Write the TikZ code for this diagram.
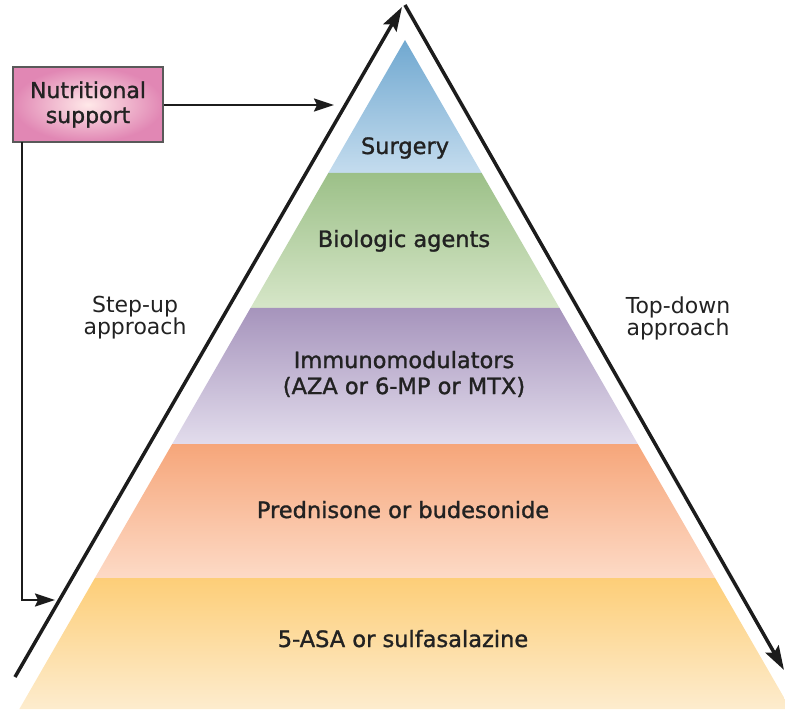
\documentclass[tikz,border=0pt]{standalone}
\usepackage{fontspec}
\setmainfont{DejaVu Sans}
\newfontfamily\mainlab[FakeBold=1.3]{DejaVu Sans}
\usetikzlibrary{arrows.meta}
\definecolor{ink}{HTML}{1C1C1C}
\definecolor{txt}{HTML}{222222}
\begin{document}
\begin{tikzpicture}[x=1pt,y=-1pt,
  layertext/.style={font=\mainlab\fontsize{22.5}{26}\selectfont, text=txt, align=center, inner sep=0pt},
  sidetext/.style={font=\fontsize{22}{22}\selectfont, text=txt, align=center, inner sep=0pt},
  bigarrow/.style={draw=ink, line width=3.5pt, -{Stealth[length=24pt,width=15pt,inset=4pt]}},
  smallarrow/.style={draw=ink, line width=2pt, -{Stealth[length=20pt,width=13pt,inset=3pt]}},
  supportbox/.style={draw=black!65, line width=1.2pt, inner color=pink!35!white, outer color={rgb,255:red,225;green,135;blue,180},
    minimum width=150pt, minimum height=75pt, align=center, inner sep=0pt,
    font=\mainlab\fontsize{22}{25}\selectfont, text=txt}
]
\useasboundingbox (0,0) rectangle (785,711);

% layers
\shade[top color={rgb,255:red,112;green,168;blue,208}, bottom color={rgb,255:red,196;green,220;blue,238}]
  (405,40) -- (481.7,173) -- (328.3,173) -- cycle;
\shade[top color={rgb,255:red,156;green,192;blue,136}, bottom color={rgb,255:red,214;green,230;blue,200}]
  (328.3,173) -- (481.7,173) -- (559.5,308) -- (250.5,308) -- cycle;
\shade[top color={rgb,255:red,166;green,148;blue,188}, bottom color={rgb,255:red,226;green,220;blue,236}]
  (250.5,308) -- (559.5,308) -- (637.8,444) -- (172.2,444) -- cycle;
\shade[top color={rgb,255:red,246;green,166;blue,122}, bottom color={rgb,255:red,253;green,218;blue,198}]
  (172.2,444) -- (637.8,444) -- (715.1,578) -- (94.9,578) -- cycle;
\shade[top color={rgb,255:red,253;green,206;blue,120}, bottom color={rgb,255:red,253;green,236;blue,206}]
  (94.9,578) -- (715.1,578) -- (790.6,709) -- (19.4,709) -- cycle;

% layer texts
\node[layertext, anchor=base] (surgery) at (405,154) {Surgery};
\node[layertext, anchor=base] (biologic) at (404,247) {Biologic agents};
\node[layertext] (immuno) at (404,374) {Immunomodulators\\(AZA or 6-MP or MTX)};
\node[layertext, anchor=base] (pred) at (403,518) {Prednisone or budesonide};
\node[layertext, anchor=base] (asa) at (403,647) {5-ASA or sulfasalazine};

% side labels
\node[sidetext] (stepup) at (135,318) {Step-up\\approach};
\node[sidetext] (topdown) at (678,318) {Top-down\\approach};

% big arrows
\coordinate (lstart) at (15,677);
\coordinate (ltip) at (402,7);
\coordinate (rstart) at (405,5);
\coordinate (rtip) at (784,670);
\draw[bigarrow] (lstart) -- (ltip);
\draw[bigarrow] (rstart) -- (rtip);

% nutritional support
\node[supportbox] (ns) at (88,104.5) {Nutritional\\support};
\coordinate (nstip) at (334,105);
\draw[smallarrow] (ns.east |- nstip) -- (nstip);
\coordinate (drop) at (22,142);
\coordinate (corner) at (22,600);
\coordinate (droptip) at (55,600);
\draw[smallarrow] (drop) -- (corner) -- (droptip);
\end{tikzpicture}
\end{document}
